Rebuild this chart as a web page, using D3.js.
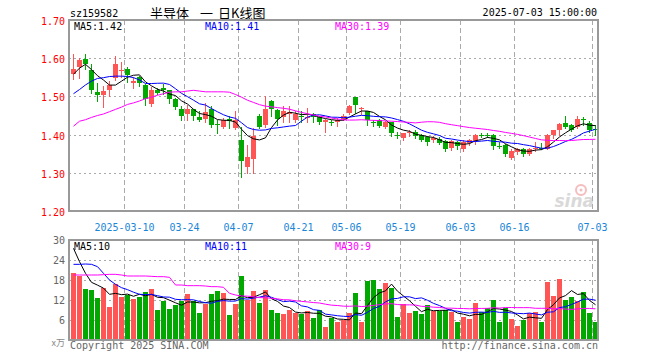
<!DOCTYPE html>
<html><head><meta charset="utf-8">
<script src="https://cdn.jsdelivr.net/npm/d3@7/dist/d3.min.js"></script>
<style>
html,body{margin:0;padding:0;background:#fff;}
svg{display:block;}
text{font-family:"DejaVu Sans Mono",monospace;font-size:10px;}
</style></head>
<body>
<svg id="c" width="660" height="360"></svg>
<script>
// ---------- data ----------
const dates = ["02-25","02-26","02-27","02-28",
"03-03","03-04","03-05","03-06","03-07","03-10","03-11","03-12","03-13","03-14","03-17","03-18","03-19","03-20","03-21","03-24","03-25","03-26","03-27","03-28","03-31",
"04-01","04-02","04-03","04-07","04-08","04-09","04-10","04-11","04-14","04-15","04-16","04-17","04-18","04-21","04-22","04-23","04-24","04-25","04-28","04-29","04-30",
"05-06","05-07","05-08","05-09","05-12","05-13","05-14","05-15","05-16","05-19","05-20","05-21","05-22","05-23","05-26","05-27","05-28","05-29","05-30",
"06-03","06-04","06-05","06-06","06-09","06-10","06-11","06-12","06-13","06-16","06-17","06-18","06-19","06-20","06-23","06-24","06-25","06-26","06-27","06-30",
"07-01","07-02","07-03"];
const opens = [1.559,1.576,1.598,1.568,1.511,1.503,1.517,1.547,1.567,1.571,
1.534,1.550,1.530,1.481,1.517,1.521,1.517,1.494,1.468,1.455,
1.466,1.445,1.442,1.468,1.427,1.421,1.440,1.418,1.385,1.316,
1.337,1.448,1.426,1.488,1.464,1.445,1.453,1.437,1.450,1.443,
1.455,1.447,1.434,1.434,1.434,1.442,1.457,1.498,1.469,1.463,
1.432,1.439,1.420,1.433,1.400,1.391,1.404,1.406,1.398,1.393,
1.387,1.389,1.384,1.365,1.381,1.361,1.378,1.384,1.400,1.399,
1.400,1.370,1.372,1.340,1.354,1.362,1.350,1.361,1.366,1.363,
1.398,1.413,1.431,1.426,1.419,1.442,1.431,1.415];
const highs = [1.611,1.600,1.611,1.584,1.534,1.527,1.540,1.606,1.589,1.576,
1.550,1.553,1.532,1.524,1.522,1.532,1.518,1.497,1.474,1.477,
1.468,1.461,1.482,1.476,1.437,1.444,1.448,1.461,1.420,1.374,
1.418,1.453,1.500,1.490,1.466,1.474,1.474,1.461,1.462,1.470,
1.457,1.449,1.442,1.439,1.444,1.453,1.477,1.498,1.472,1.463,
1.437,1.442,1.435,1.433,1.407,1.405,1.411,1.411,1.402,1.396,
1.396,1.393,1.387,1.387,1.384,1.387,1.389,1.402,1.404,1.404,
1.402,1.381,1.376,1.361,1.365,1.365,1.365,1.381,1.378,1.402,
1.413,1.431,1.448,1.428,1.448,1.446,1.435,1.424];
const lows = [1.545,1.547,1.572,1.510,1.489,1.472,1.500,1.542,1.550,1.539,
1.521,1.527,1.477,1.476,1.505,1.505,1.484,1.466,1.438,1.438,
1.438,1.435,1.432,1.421,1.405,1.418,1.418,1.415,1.290,1.300,
1.300,1.418,1.421,1.448,1.426,1.434,1.434,1.432,1.432,1.434,
1.432,1.429,1.408,1.424,1.422,1.439,1.453,1.457,1.453,1.424,
1.422,1.419,1.418,1.397,1.391,1.385,1.396,1.391,1.384,1.374,
1.381,1.376,1.356,1.359,1.363,1.356,1.374,1.376,1.393,1.393,
1.363,1.365,1.345,1.337,1.349,1.343,1.346,1.356,1.361,1.361,
1.391,1.400,1.418,1.409,1.416,1.426,1.408,1.400];
const closes = [1.571,1.595,1.584,1.518,1.503,1.514,1.529,1.584,1.569,1.555,
1.540,1.534,1.492,1.517,1.510,1.517,1.494,1.473,1.448,1.468,
1.448,1.439,1.459,1.426,1.425,1.439,1.436,1.438,1.332,1.342,
1.397,1.421,1.466,1.466,1.441,1.461,1.458,1.454,1.447,1.447,
1.447,1.432,1.437,1.432,1.439,1.448,1.474,1.478,1.470,1.438,
1.430,1.422,1.433,1.403,1.397,1.403,1.407,1.396,1.387,1.381,
1.391,1.378,1.361,1.384,1.369,1.381,1.387,1.400,1.398,1.397,
1.369,1.367,1.349,1.358,1.361,1.350,1.363,1.365,1.364,1.398,
1.413,1.429,1.419,1.413,1.441,1.439,1.411,1.413];
const volumes = [20.0,19.3,15.3,15.0,12.7,15.5,10.0,16.8,13.0,13.5,
12.3,13.0,14.5,15.3,9.0,11.7,9.3,10.5,11.7,13.8,
11.7,8.0,10.8,13.8,14.7,14.0,7.5,10.8,19.2,12.0,
14.7,11.2,15.0,9.0,8.0,7.7,9.0,8.2,7.7,8.7,
6.5,9.0,3.8,6.7,5.5,6.0,8.2,14.2,5.5,17.7,
18.0,15.3,17.2,15.7,7.0,10.8,8.2,8.8,7.7,10.5,
8.7,8.7,9.0,8.5,5.5,7.0,6.3,11.2,8.3,9.5,
12.0,5.5,9.5,6.3,4.3,6.0,8.2,8.5,5.5,17.5,
13.3,18.3,12.0,13.0,11.7,14.5,8.2,5.5];
// moving-average values of the first days (their history lies before the window)
const ma5Lead = [1.558,1.574,1.584,1.570];
const ma10Lead = [1.507,1.518,1.530,1.540,1.547,1.549,1.552,1.553,1.553];
const ma30Lead = [1.422,1.435,1.439,1.445,1.450,1.454,1.460,1.466,1.472,1.479,1.483,1.488,1.494,1.498,1.503,1.507,1.511,1.512,1.512,1.514,1.516,1.514,1.512,1.512,1.512,1.512,1.511,1.505,1.498];
const vma5Lead = [27.5,23.5,20.0,17.3];
const vma10Lead = [22.7,22.7,22.8,22.7,22.0,20.0,18.0,16.7,15.7];
const vma30Lead = [19.5,19.5,19.5,19.5,19.5,19.6,19.7,19.7,19.5,19.2,19.2,19.2,19.2,19.1,19.0,19.0,18.8,16.5,16.5,16.3,16.3,16.3,16.2,16.0,16.0,15.8,14.0,13.5,13.2];
const priceTicks = [1.2,1.3,1.4,1.5,1.6,1.7];
const priceTickLabels = ["1.20","1.30","1.40","1.50","1.60","1.70"];
const volTicks = [6,12,18,24,30];
const volTickLabels = ["6","12","18","24","30"];
const dateTicks = ["03-10","03-24","04-07","04-21","05-06","05-19","06-03","06-16","07-03"];
const dateTickLabels = ["2025-03-10","03-24","04-07","04-21","05-06","05-19","06-03","06-16","07-03"];

// ---------- drawing ----------
const svg = d3.select("#c");
const RED = "#ff5555", GREEN = "#00a800", GRID = "#aaaaaa";
const maColors = ["#000000","#0000ff","#ff00ff"];
const L = 69, R = 598, PT = 20, PB = 211, VT = 240, VB = 340;

const x = d3.scaleBand().domain(dates).range([70.5, 598.5]).paddingInner(1/6).paddingOuter(1/12);
const yP = d3.scaleLinear().domain([1.2, 1.7]).range([PB, PT]);
const yV = d3.scaleLinear().domain([0, 30]).range([VB, VT]);
const idx = d3.range(dates.length);

function ma(vals, n, lead) {
  return vals.map((v, i) => i < n - 1 ? lead[i] : d3.mean(vals.slice(i - n + 1, i + 1)));
}
const pMA = [ma(closes,5,ma5Lead), ma(closes,10,ma10Lead), ma(closes,30,ma30Lead)];
const vMA = [ma(volumes,5,vma5Lead), ma(volumes,10,vma10Lead), ma(volumes,30,vma30Lead)];
const up = i => closes[i] >= opens[i];

// header
svg.append("text").attr("x", 70).attr("y", 17).attr("fill", "#000").text("sz159582");
const tg = svg.append("g").style("font-family", '"Noto Sans CJK SC",sans-serif').style("font-size", "13px").attr("fill", "#000");
tg.append("text").attr("x", 150).attr("y", 18).style("font-family", '"Noto Sans CJK SC",sans-serif').style("font-size","13px").text("半导体");
tg.append("text").attr("x", 200).attr("y", 18).style("font-family", '"Noto Sans CJK SC",sans-serif').style("font-size","13px").text("一");
tg.append("text").attr("x", 218).attr("y", 18).style("font-family", '"Noto Sans CJK SC",sans-serif').style("font-size","13px").text("日K线图");
svg.append("text").attr("x", 597).attr("y", 16).attr("text-anchor", "end").attr("fill", "#000").text("2025-07-03 15:00:00");

function panelGrid(yScale, ticks, top, bottom) {
  const g = svg.append("g");
  g.selectAll("line.h").data(ticks.filter(t => yScale(t) > top + 2 && yScale(t) < bottom - 2)).join("line")
    .attr("x1", L).attr("x2", R)
    .attr("y1", d => Math.round(yScale(d)) + 0.5).attr("y2", d => Math.round(yScale(d)) + 0.5)
    .attr("stroke", GRID).attr("stroke-dasharray", "2,3");
  g.selectAll("line.v").data(dateTicks).join("line")
    .attr("x1", d => x(d) - 0.5).attr("x2", d => x(d) - 0.5)
    .attr("y1", top).attr("y2", bottom)
    .attr("stroke", GRID).attr("stroke-dasharray", "5,3");
}
panelGrid(yP, priceTicks, PT, PB);
panelGrid(yV, volTicks, VT, VB);

// watermark
const wm = svg.append("g").attr("opacity", 0.55);
wm.append("circle").attr("cx", 581).attr("cy", 190).attr("r", 5).attr("fill", "none").attr("stroke", "#e88").attr("stroke-width", 2);
wm.append("circle").attr("cx", 581).attr("cy", 190).attr("r", 1.5).attr("fill", "#e88");
wm.append("text").attr("x", 594).attr("y", 207).attr("text-anchor", "end")
  .style("font-family", '"DejaVu Sans",sans-serif').style("font-size", "17px").style("font-style", "italic").style("font-weight", "bold")
  .attr("fill", "#bbb").text("sina");

// candles
const cg = svg.append("g");
cg.selectAll("line").data(idx).join("line")
  .attr("x1", i => x(dates[i]) + 2.5).attr("x2", i => x(dates[i]) + 2.5)
  .attr("y1", i => Math.round(yP(highs[i]))).attr("y2", i => Math.round(yP(lows[i])) + 1)
  .attr("stroke", i => up(i) ? RED : GREEN).attr("stroke-width", 1);
cg.selectAll("rect").data(idx).join("rect")
  .attr("x", i => x(dates[i])).attr("width", x.bandwidth())
  .attr("y", i => Math.round(yP(Math.max(opens[i], closes[i]))))
  .attr("height", i => Math.max(1, Math.round(yP(Math.min(opens[i], closes[i]))) - Math.round(yP(Math.max(opens[i], closes[i])))))
  .attr("fill", i => up(i) ? RED : GREEN);

// volume bars
svg.append("g").selectAll("rect").data(idx).join("rect")
  .attr("x", i => x(dates[i])).attr("width", x.bandwidth())
  .attr("y", i => Math.round(yV(volumes[i]))).attr("height", i => VB - Math.round(yV(volumes[i])))
  .attr("fill", i => up(i) ? RED : GREEN);

// MA lines
function maLines(series, yScale) {
  series.forEach((s, k) => {
    svg.append("path").datum(s)
      .attr("d", d3.line().x((d, i) => x(dates[i]) + 2.5).y(d => yScale(d)))
      .attr("fill", "none").attr("stroke", maColors[k]).attr("stroke-width", 1);
  });
}
maLines(pMA, yP);
maLines(vMA, yV);

// frames
[[PT, PB], [VT, VB]].forEach(([t, b]) => {
  svg.append("rect").attr("x", L).attr("y", t).attr("width", R - L).attr("height", b - t)
    .attr("fill", "none").attr("stroke", "#999").attr("stroke-width", 2);
});

// axes labels
svg.append("g").selectAll("text").data(priceTicks).join("text")
  .attr("x", 65).attr("y", d => Math.round(yP(d)) + 5).attr("text-anchor", "end").attr("fill", "#ff0000")
  .text((d, i) => priceTickLabels[i]);
svg.append("g").selectAll("text").data(volTicks).join("text")
  .attr("x", 65).attr("y", d => Math.round(yV(d)) + 4).attr("text-anchor", "end").attr("fill", "#666")
  .text((d, i) => volTickLabels[i]);
svg.append("text").attr("x", 65).attr("y", 346).attr("text-anchor", "end").attr("fill", "#888")
  .style("font-family", '"Noto Sans CJK SC",sans-serif').style("font-size", "9px").text("x万");
svg.append("g").selectAll("text").data(dateTicks).join("text")
  .attr("x", d => x(d) - 0.5).attr("y", 231).attr("text-anchor", "middle").attr("fill", "#1a86d8")
  .text((d, i) => dateTickLabels[i]);

// legends
const last = dates.length - 1;
const lx = [74, 205, 335], names = ["MA5:", "MA10:", "MA30:"];
pMA.forEach((s, k) => svg.append("text").attr("x", lx[k]).attr("y", 30).attr("fill", maColors[k]).text(names[k] + s[last].toFixed(2)));
vMA.forEach((s, k) => svg.append("text").attr("x", lx[k]).attr("y", 250).attr("fill", maColors[k]).text(names[k] + Math.floor(s[last])));

// footer
svg.append("text").attr("x", 70).attr("y", 349).attr("fill", "#666").text("Copyright 2025 SINA.COM");
svg.append("text").attr("x", 598).attr("y", 349).attr("text-anchor", "end").attr("fill", "#666").text("http://finance.sina.com.cn");
</script>
</body></html>
